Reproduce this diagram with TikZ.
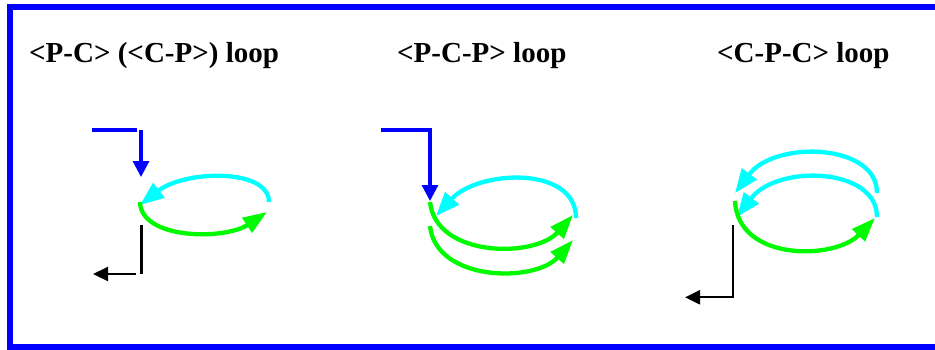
\documentclass[tikz,border=0pt]{standalone}
\usepackage{fontspec}
\setmainfont{Liberation Serif}
\usetikzlibrary{arrows.meta}
\definecolor{pblue}{RGB}{0,0,255}
\definecolor{pcyan}{RGB}{0,255,255}
\definecolor{pgreen}{RGB}{0,250,0}
\begin{document}
\begin{tikzpicture}[x=1pt,y=-1pt,
  title/.style={anchor=base west,inner sep=0pt,font=\fontsize{29}{34}\selectfont\bfseries},
  frame/.style={draw=pblue,line width=6pt},
  inarrow/.style={draw=pblue,line width=3.3pt,-{Triangle[length=16pt,width=16pt]}},
  inline/.style={draw=pblue,line width=3.3pt},
  outarrow/.style={draw=black,line width=2.2pt,-{Triangle[length=15pt,width=14pt]}},
  outline/.style={draw=black,line width=2.2pt},
  cyanarc/.style={draw=pcyan,line width=4.3pt,-{Triangle[length=24pt,width=18pt]}},
  greenarc/.style={draw=pgreen,line width=4.3pt,-{Triangle[length=24pt,width=17pt]}}]
\useasboundingbox (0,0) rectangle (935,349);
\fill[white] (0,0) rectangle (935,349);
\draw[frame] (950,7) -- (9.7,7) -- (9.7,346.5) -- (950,346.5);

% titles
\node[title] (t1) at (29,62) {<P-C> (<C-P>) loop};
\node[title] (t2) at (397,62) {<P-C-P> loop};
\node[title] (t3) at (717,62) {<C-P-C> loop};

% ---- panel 1 ----
\coordinate (a1s) at (92,130);
\coordinate (a1c) at (137,130);
\coordinate (a1v) at (141,130);
\coordinate (a1t) at (141,177);
\draw[inline] (a1s) -- (a1c);
\draw[inarrow] (a1v) -- (a1t);
\coordinate (c1s) at (269,202);
\coordinate (c1e) at (140,205);
\draw[cyanarc] (c1s) .. controls (269,168) and (185,170) .. (c1e);
\coordinate (g1s) at (140,202);
\coordinate (g1e) at (267,212);
\draw[greenarc] (g1s) .. controls (141,240) and (225,240) .. (g1e);
\coordinate (o1s) at (141.5,225);
\coordinate (o1c) at (141.5,274);
\coordinate (o1h) at (136,274);
\coordinate (o1t) at (93,274);
\draw[outline] (o1s) -- (o1c);
\draw[outarrow] (o1h) -- (o1t);

% ---- panel 2 ----
\coordinate (a2s) at (381,130);
\coordinate (a2c) at (430,130);
\coordinate (a2t) at (430,201);
\draw[inarrow] (a2s) -- (a2c) -- (a2t);
\coordinate (c2s) at (576,218);
\coordinate (c2e) at (436,216);
\draw[cyanarc] (c2s) .. controls (576,165) and (478,170) .. (c2e);
\coordinate (g2s) at (430,202);
\coordinate (g2e) at (573,215);
\draw[greenarc] (g2s) .. controls (436,258) and (535,258) .. (g2e);
\coordinate (g3s) at (430,226);
\coordinate (g3e) at (573,240);
\draw[greenarc] (g3s) .. controls (436,282) and (535,283) .. (g3e);

% ---- panel 3 ----
\coordinate (c3s) at (877,193);
\coordinate (c3e) at (735,193);
\draw[cyanarc] (c3s) .. controls (877,143) and (775,140) .. (c3e);
\coordinate (c4s) at (877,217);
\coordinate (c4e) at (737,217);
\draw[cyanarc] (c4s) .. controls (877,167) and (777,164) .. (c4e);
\coordinate (g4s) at (735,201);
\coordinate (g4e) at (875,218);
\draw[greenarc] (g4s) .. controls (738,262) and (835,260) .. (g4e);
\coordinate (o3s) at (732.7,225);
\coordinate (o3c) at (732.7,297.3);
\coordinate (o3t) at (685,297.3);
\draw[outarrow] (o3s) -- (o3c) -- (o3t);
\end{tikzpicture}
\end{document}
